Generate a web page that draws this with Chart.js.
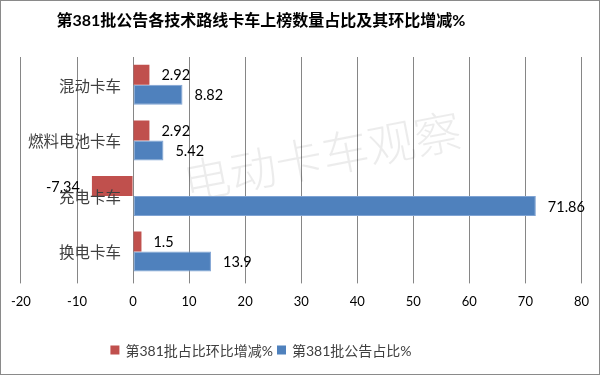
<!DOCTYPE html>
<html>
<head>
<meta charset="utf-8">
<script src="https://cdn.jsdelivr.net/npm/chart.js@4"></script>
<style>
html,body{margin:0;padding:0;background:#fff;}
#wrap{position:relative;width:600px;height:375px;}
#frame{position:absolute;left:0;top:0;width:600px;height:375px;box-sizing:border-box;border:1px solid #8a8a8a;pointer-events:none;}
</style>
</head>
<body>
<div id="wrap"><canvas id="c" width="600" height="375"></canvas><div id="frame"></div></div>
<script>
const titleText = '第381批公告各技术路线卡车上榜数量占比及其环比增减%';
const watermarkText = '电动卡车观察';
const categories = ['混动卡车', '燃料电池卡车', '充电卡车', '换电卡车'];
const seriesNames = ['第381批占比环比增减%', '第381批公告占比%'];
const changeValues = [2.92, 2.92, -7.34, 1.5];
const shareValues = [8.82, 5.42, 71.86, 13.9];
const xMin = -20, xMax = 80, xStep = 10;
const colors = ['#C0504D', '#4F81BD'];

const NUM = '"Lato","Noto Sans CJK SC",sans-serif';
const CJK = '"Noto Sans CJK SC","Noto Sans",sans-serif';

const custom = {
  id: 'custom',
  beforeDatasetsDraw(chart) {
    const ctx = chart.ctx;
    ctx.save();
    ctx.translate(322, 156);
    ctx.rotate(-11 * Math.PI / 180);
    ctx.font = '300 47px ' + CJK;
    ctx.fillStyle = 'rgba(0,0,0,0.075)';
    ctx.textAlign = 'center';
    ctx.textBaseline = 'middle';
    ctx.fillText(watermarkText, 0, 0);
    ctx.restore();
  },
  afterDatasetsDraw(chart) {
    const ctx = chart.ctx;
    ctx.save();
    // data labels
    ctx.font = '14.5px ' + NUM;
    ctx.fillStyle = '#000';
    ctx.textBaseline = 'middle';
    chart.data.datasets.forEach((ds, i) => {
      const meta = chart.getDatasetMeta(i);
      meta.data.forEach((bar, j) => {
        const v = ds.data[j];
        if (v >= 0) {
          ctx.textAlign = 'left';
          ctx.fillText(String(v), bar.x + 12, bar.y + 1);
        } else {
          ctx.textAlign = 'right';
          ctx.fillText(String(v), bar.x - 12, bar.y + 1);
        }
      });
    });
    // category labels
    const ys = chart.scales.y;
    ctx.font = '15.5px ' + CJK;
    ctx.fillStyle = '#404040';
    ctx.textAlign = 'right';
    categories.forEach((c, i) => {
      ctx.fillText(c, 121, ys.getPixelForValue(i) + 1);
    });
    // title
    ctx.font = 'bold 16px ' + NUM;
    ctx.fillStyle = '#000';
    ctx.textAlign = 'center';
    ctx.fillText(titleText, 261, 21);
    // legend
    ctx.font = '14px ' + NUM;
    ctx.fillStyle = '#404040';
    ctx.textAlign = 'left';
    const box = 9, gap = 6, itemGap = 4;
    const widths = seriesNames.map(s => ctx.measureText(s).width);
    let total = 0;
    widths.forEach((w, i) => { total += box + gap + w + (i < widths.length - 1 ? itemGap : 0); });
    let x = 261 - total / 2;
    const ly = 350;
    seriesNames.forEach((s, i) => {
      ctx.fillStyle = colors[i];
      ctx.fillRect(x, ly - box / 2, box, box);
      ctx.fillStyle = '#404040';
      ctx.fillText(s, x + box + gap, ly + 1);
      x += box + gap + widths[i] + itemGap;
    });
    ctx.restore();
  }
};

new Chart(document.getElementById('c'), {
  type: 'bar',
  data: {
    labels: categories,
    datasets: [
      { label: seriesNames[0], data: changeValues, backgroundColor: colors[0], borderWidth: 0 },
      { label: seriesNames[1], data: shareValues, backgroundColor: colors[1], borderColor: '#7FA3D3', borderWidth: 1, borderSkipped: false }
    ]
  },
  options: {
    indexAxis: 'y',
    responsive: false,
    animation: false,
    events: [],
    layout: { padding: { left: 19, right: 18, top: 57, bottom: 54 } },
    datasets: { bar: { categoryPercentage: 0.72, barPercentage: 1 } },
    plugins: { legend: { display: false }, title: { display: false }, tooltip: { enabled: false } },
    scales: {
      x: {
        min: xMin, max: xMax,
        ticks: { stepSize: xStep, color: '#000', font: { family: NUM, size: 13 }, padding: 11, maxRotation: 0 },
        grid: { color: '#868686', lineWidth: 1, drawTicks: true, tickLength: 4 },
        border: { display: false }
      },
      y: {
        display: false,
        grid: { display: false }
      }
    }
  },
  plugins: [custom]
});
</script>
</body>
</html>
